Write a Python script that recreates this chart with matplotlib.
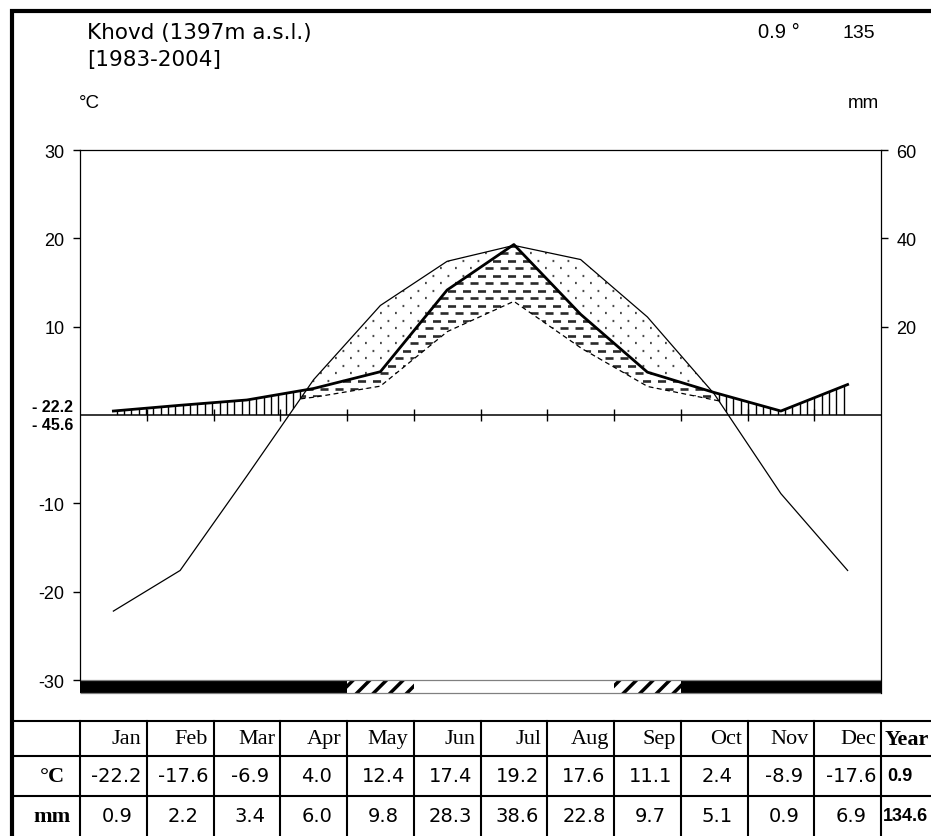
import numpy as np
import matplotlib
matplotlib.use("Agg")
import matplotlib.pyplot as plt
from matplotlib.path import Path
from matplotlib.lines import Line2D
from matplotlib.transforms import blended_transform_factory

plt.rcParams['font.family'] = ['Liberation Sans', 'DejaVu Sans']
plt.rcParams['axes.unicode_minus'] = False
plt.rcParams['lines.scale_dashes'] = False
plt.rcParams['hatch.linewidth'] = 2.5

# station data
station = "Khovd (1397m a.s.l.)"
period = "[1983-2004]"
months = ["Jan", "Feb", "Mar", "Apr", "May", "Jun",
          "Jul", "Aug", "Sep", "Oct", "Nov", "Dec"]
temp = [-22.2, -17.6, -6.9, 4.0, 12.4, 17.4, 19.2, 17.6, 11.1, 2.4, -8.9, -17.6]
prec = [0.9, 2.2, 3.4, 6.0, 9.8, 28.3, 38.6, 22.8, 9.7, 5.1, 0.9, 6.9]
year_temp = 0.9
year_prec = 134.6
zero_labels = ["- 22.2", "- 45.6"]
frost = ["frost", "frost", "frost", "frost", "maybe", "free",
         "free", "free", "maybe", "frost", "frost", "frost"]

W, H = 931, 837


def fy(py):
    # pixel row -> figure fraction
    return 1 - py / H


def fx(px):
    return px / W


# fill a region with short strokes instead of matplotlib hatches
def pattern(ax, region, kind):
    clip = Path.make_compound_path(*region.get_paths())
    lcs = []
    if kind == "vert":
        lcs.append(ax.vlines(np.arange(-0.5, 11.5, 0.11), -1, 31,
                             colors="black", linewidth=1.0))
    else:
        rows = np.arange(-0.4, 31, 0.85)
        if kind == "dash":
            dash, off, col, lw = (5.8, 5.0), 5.4, "#2a2a2a", 1.9
        else:
            dash, off, col, lw = (1.3, 9.5), 5.4, "#4a4a4a", 1.6
        lcs.append(ax.hlines(rows[::2], -0.5, 11.5, colors=col, linewidth=lw,
                             linestyles=[(0, dash)]))
        lcs.append(ax.hlines(rows[1::2], -0.5, 11.5, colors=col, linewidth=lw,
                             linestyles=[(off, dash)]))
    for lc in lcs:
        lc.set_clip_path(clip, ax.transData)


fig = plt.figure(figsize=(W / 100, H / 100), dpi=100)
ax = fig.add_axes([fx(80), fy(681), fx(801), 530 / H])
ax.set_xlim(-0.5, 11.5)
ax.set_ylim(-30, 30)

x = np.arange(12)
t = np.array(temp)
p = np.array(prec)
# dense copy of the same straight segments, for the shaded areas
xs = np.linspace(0, 11, 2201)
ts = np.interp(xs, x, t)
p2 = np.interp(xs, x, p) / 2
p3 = np.interp(xs, x, p) / 3

humid = ax.fill_between(xs, np.maximum(ts, 0), p2, where=p2 > ts,
                        interpolate=True, facecolor="none", linewidth=0)
pattern(ax, humid, "vert")
arid = ax.fill_between(xs, p2, ts, where=ts > p2, interpolate=True,
                       facecolor="none", linewidth=0)
pattern(ax, arid, "dot")
semi = ax.fill_between(xs, p3, np.minimum(ts, p2), where=ts > p3,
                       interpolate=True, facecolor="none", linewidth=0)
pattern(ax, semi, "dash")

ax.plot(x, t, color="black", linewidth=0.9)
ax.plot(x, p / 2, color="black", linewidth=2.0)
ax.plot(xs, np.where(ts > p3, p3, np.nan), color="black", linewidth=0.9,
        linestyle=(0, (3.5, 2.5)))

ax.axhline(0, color="black", linewidth=1.1)
ax.vlines(np.arange(0.5, 11, 1), -0.65, 0.65, colors="black", linewidth=1.0)

# frost bar under the axis
fc = {"frost": "black", "maybe": "white", "free": "white"}
for i, f in enumerate(frost):
    ax.bar(x[i], -1.5, bottom=-30, width=1, color=fc[f],
           edgecolor="black" if f == "maybe" else "none", linewidth=0,
           hatch="//" if f == "maybe" else None, clip_on=False)
ax.hlines([-30, -31.5], -0.5, 11.5, colors="gray", linewidth=0.9, clip_on=False)

ax.set_xticks([])
ax.set_yticks([-30, -20, -10, 10, 20, 30])
ax.tick_params(axis="y", direction="out", length=5, width=1, labelsize=13, pad=6)
ax.spines["bottom"].set_visible(False)
ax.spines["right"].set_visible(False)
for s in ["left", "top"]:
    ax.spines[s].set_linewidth(0.9)

ax2 = ax.twinx()
ax2.set_ylim(-60, 60)
ax2.set_yticks([20, 40, 60])
ax2.tick_params(axis="y", direction="out", length=5, width=1, labelsize=13, pad=6)
for s in ["left", "top", "bottom"]:
    ax2.spines[s].set_visible(False)
ax2.spines["right"].set_linewidth(0.9)
ax2.spines["right"].set_bounds(-63, 60)

ax.annotate(zero_labels[0], xy=(0, 0), xycoords=("axes fraction", "data"),
            xytext=(-7, 9), textcoords="offset pixels", ha="right", va="center",
            fontsize=11.5, fontweight="bold")
ax.annotate(zero_labels[1], xy=(0, 0), xycoords=("axes fraction", "data"),
            xytext=(-7, -9), textcoords="offset pixels", ha="right", va="center",
            fontsize=11.5, fontweight="bold")

# header texts
wide = ["DejaVu Sans"]
fig.text(fx(87), fy(33), station, fontsize=15.5, va="center", family=wide)
fig.text(fx(87), fy(60), period, fontsize=15.5, va="center", family=wide)
fig.text(fx(79), fy(103), "°C", fontsize=13.5, va="center")
fig.text(fx(758), fy(33), f"{year_temp} °", fontsize=14.5, va="center")
fig.text(fx(843), fy(33), f"{round(year_prec)}", fontsize=14, va="center")
fig.text(fx(848), fy(104), "mm", fontsize=13.5, va="center")

# frame
fig.add_artist(Line2D([fx(12), fx(12), 1], [0, fy(12), fy(12)],
                      color="black", linewidth=3, solid_joinstyle="miter"))

# table under the chart, columns follow the month axis
tr = blended_transform_factory(ax.transData, fig.transFigure)
rows_y = [722, 757, 797]
for ry in rows_y:
    fig.add_artist(Line2D([fx(12), 1], [fy(ry), fy(ry)], color="black", linewidth=1.5))
for b in np.arange(-0.5, 12.5, 1):
    ax.add_line(Line2D([b, b], [fy(722), 0], transform=tr, color="black",
                       linewidth=1.5, clip_on=False))

serif = ["Liberation Serif", "DejaVu Serif"]
for i, m in enumerate(months):
    ax.text(i + 0.42, fy(740), m, transform=tr, ha="right", va="center",
            fontsize=16, family=serif)
    ax.text(i + 0.05, fy(777), f"{temp[i]:.1f}", transform=tr, ha="center",
            va="center", fontsize=14, family=wide)
    ax.text(i + 0.05, fy(817), f"{prec[i]:.1f}", transform=tr, ha="center",
            va="center", fontsize=14, family=wide)
ax.text(11.55, fy(740), "Year", transform=tr, ha="left", va="center",
        fontsize=16, family=serif, fontweight="bold")
ax.text(11.6, fy(777), f"{year_temp:.1f}", transform=tr, ha="left",
        va="center", fontsize=13, fontweight="bold")
ax.text(11.53, fy(817), f"{year_prec:.1f}", transform=tr, ha="left",
        va="center", fontsize=13, fontweight="bold")
fig.text(fx(52), fy(777), "°C", ha="center", va="center", fontsize=16,
         family=serif, fontweight="bold")
fig.text(fx(52), fy(817), "mm", ha="center", va="center", fontsize=16,
         family=serif, fontweight="bold")

fig.savefig("out.png", dpi=100)
